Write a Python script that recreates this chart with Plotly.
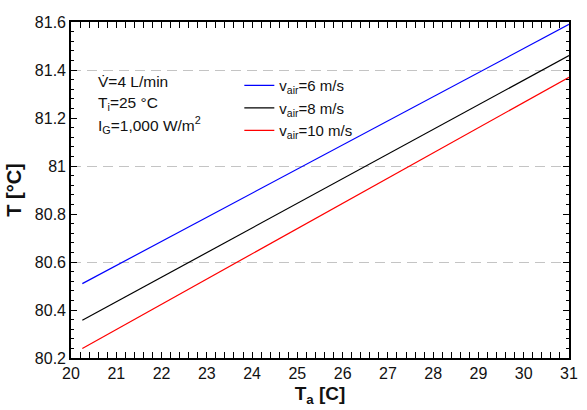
import plotly.graph_objects as go

# Outlet temperature vs. ambient temperature for three air velocities
ta = [20.25, 31.0]
t_v6 = [80.51, 81.59]
t_v8 = [80.357, 81.46]
t_v10 = [80.24, 81.37]

series = [
    ("v<sub>air</sub>=6 m/s", t_v6, "#0000ff"),
    ("v<sub>air</sub>=8 m/s", t_v8, "#000000"),
    ("v<sub>air</sub>=10 m/s", t_v10, "#ff0000"),
]

conditions = [
    "V\u0307=4 L/min",
    "T<sub>i</sub>=25 \u00b0C",
    "I<sub>G</sub>=1,000 W/m<sup>2</sup>",
]

font_family = "Liberation Sans, Arial, sans-serif"

fig = go.Figure()
for name, vals, color in series:
    fig.add_trace(go.Scatter(x=ta, y=vals, mode="lines", name=name,
                             line=dict(color=color, width=1.2)))

axis_common = dict(
    showline=True, linecolor="black", linewidth=1.6, mirror="allticks",
    ticks="inside", ticklen=6, tickwidth=1.2, tickcolor="black",
    showgrid=False, zeroline=False,
    tickfont=dict(size=16, color="#111", family=font_family),
)

fig.update_layout(
    width=587, height=410,
    margin=dict(l=71, r=9, t=22, b=52),
    paper_bgcolor="white", plot_bgcolor="white",
    font=dict(family=font_family, color="#111"),
    xaxis=dict(
        range=[20, 31], dtick=1, tick0=20,
        minor=dict(dtick=0.2, ticks="inside", ticklen=3, tickcolor="black"),
        title=dict(text="<b>T<sub>a</sub> [C]</b>", font=dict(size=19), standoff=6),
        **axis_common,
    ),
    yaxis=dict(
        range=[80.2, 81.6], dtick=0.2, tick0=80.2,
        minor=dict(dtick=0.04, ticks="inside", ticklen=3, tickcolor="black"),
        title=dict(text="<b>T [\u00b0C]</b>", font=dict(size=20), standoff=8),
        **axis_common,
    ),
    yaxis2=dict(
        overlaying="y", range=[80.2, 81.6], tick0=80.2, dtick=0.4,
        showgrid=True, gridcolor="#c4c4c4", gridwidth=1, griddash="10px,6px",
        showticklabels=False, ticks="", zeroline=False, showline=False,
    ),
    legend=dict(
        x=0.338, y=0.86, xanchor="left", yanchor="top",
        bgcolor="rgba(0,0,0,0)", font=dict(size=15, family=font_family),
        tracegroupgap=0, itemwidth=30,
    ),
    showlegend=True,
)

# Invisible trace so the gridline axis is rendered
fig.add_trace(go.Scatter(x=[ta[0]], y=[t_v6[0]], yaxis="y2", mode="markers",
                         marker=dict(opacity=0), showlegend=False, hoverinfo="skip"))

for i, txt in enumerate(conditions):
    fig.add_annotation(
        text=txt, xref="paper", yref="paper",
        x=0.05, y=0.822 - i * 0.064, xanchor="left", yanchor="middle",
        showarrow=False, font=dict(size=15.5, family=font_family, color="#111"),
    )

fig.write_html("out.html")
